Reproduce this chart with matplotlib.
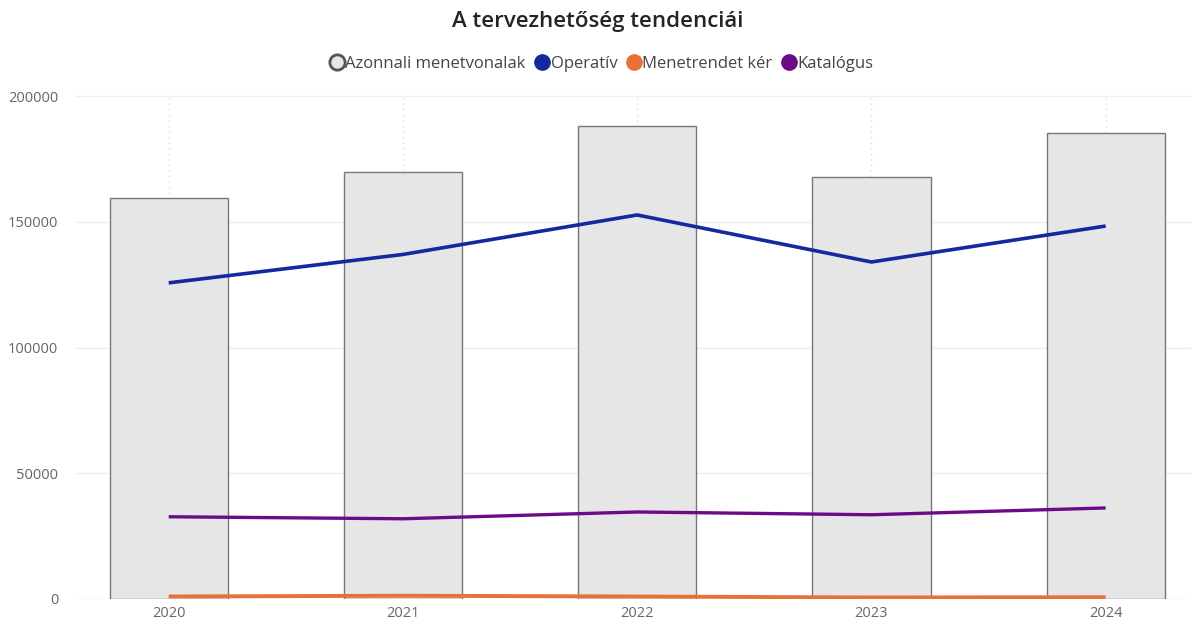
import matplotlib
matplotlib.use("Agg")
import matplotlib.pyplot as plt
from matplotlib.lines import Line2D
import numpy as np

years = ["2020", "2021", "2022", "2023", "2024"]
azonnali = [159300, 169800, 188100, 167900, 185200]
operativ = [125700, 137000, 152700, 134000, 148300]
menetrendet = [1000, 1300, 1000, 600, 700]
katalogus = [32700, 31900, 34600, 33500, 36200]

yticks = [0, 50000, 100000, 150000, 200000]

plt.rcParams['font.family'] = ['Open Sans', 'DejaVu Sans']

fig = plt.figure(figsize=(11.96, 6.24), dpi=100)
ax = fig.add_axes([75/1196, 1-599/624, (1190-75)/1196, (599-96)/624])

x = np.arange(len(years))
# dotted vertical gridlines behind bars
for xi in x:
    ax.plot([xi, xi], [0, 200000], color="#dddddd", linestyle=(0, (1, 3)), linewidth=1, zorder=0)
for yt in yticks[1:]:
    ax.axhline(yt, color="#efefef", linewidth=1, zorder=0, clip_on=False)

ax.bar(x, azonnali, width=0.505, color="#e6e6e6", edgecolor="#777777", linewidth=1.0, zorder=2)
ax.plot(x, operativ, color="#1428a0", linewidth=2.6, zorder=3, solid_capstyle="butt")
ax.plot(x, katalogus, color="#6d0a87", linewidth=2.4, zorder=3, solid_capstyle="butt")
ax.plot(x, menetrendet, color="#e8703a", linewidth=2.8, zorder=3, solid_capstyle="butt")

ax.set_xlim(-0.40, 4.36)
ax.set_ylim(0, 200000)
ax.set_xticks(x)
ax.set_xticklabels(years)
ax.set_yticks(yticks)
ax.set_yticklabels([str(v) for v in yticks])
ax.tick_params(axis="both", length=0, labelsize=10.5, labelcolor="#666666")
ax.tick_params(axis="y", pad=12)
ax.tick_params(axis="x", pad=5)
for s in ax.spines.values():
    s.set_visible(False)
ax.axhline(0, color="#e0e0e0", linewidth=1, zorder=1)

fig.text(0.5, 1-22/624, "A tervezhetőség tendenciái", ha="center", va="center",
         fontsize=16, color="#252423", fontweight="semibold")

handles = [
    Line2D([], [], marker="o", linestyle="none", markersize=11, markerfacecolor="#e6e6e6",
           markeredgecolor="#555555", markeredgewidth=2.0),
    Line2D([], [], marker="o", linestyle="none", markersize=11, color="#1428a0"),
    Line2D([], [], marker="o", linestyle="none", markersize=11, color="#e8703a"),
    Line2D([], [], marker="o", linestyle="none", markersize=11, color="#6d0a87"),
]
labels = ["Azonnali menetvonalak", "Operatív", "Menetrendet kér", "Katalógus"]
fig.legend(handles, labels, loc="center", bbox_to_anchor=(601/1196, 1-64/624), ncol=4,
           frameon=False, fontsize=12, handletextpad=0.0, columnspacing=0.5,
           handlelength=1.0, labelcolor="#444444")

fig.savefig("out.png", dpi=100)
